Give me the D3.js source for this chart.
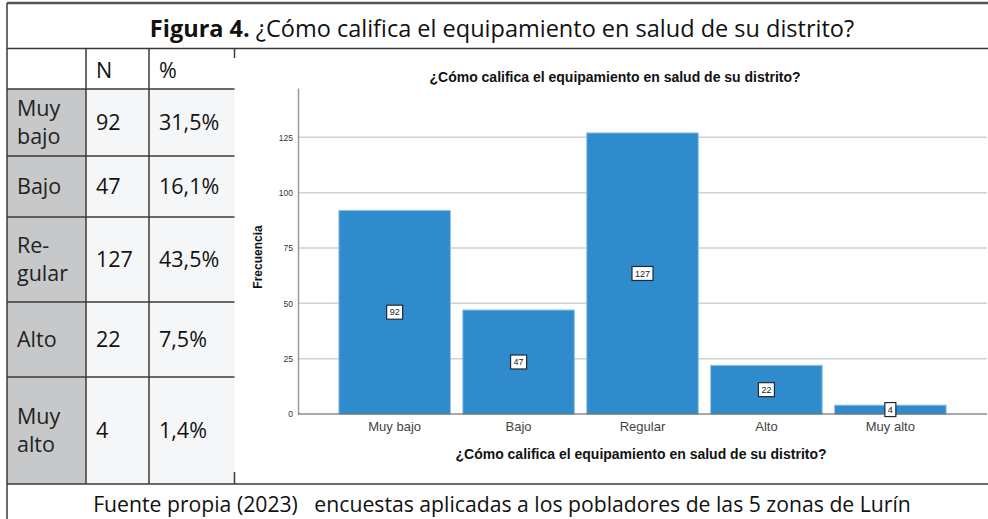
<!DOCTYPE html>
<html>
<head>
<meta charset="utf-8">
<script src="https://cdn.jsdelivr.net/npm/d3@7"></script>
<style>
  body { margin: 0; background: #fff; }
  svg { display: block; }
</style>
</head>
<body>
<div id="chart"></div>
<script>
// Data
const categories = ['Muy bajo', 'Bajo', 'Regular', 'Alto', 'Muy alto'];
const counts     = [92, 47, 127, 22, 4];
const percents   = ['31,5%', '16,1%', '43,5%', '7,5%', '1,4%'];
const rowLabels  = [['Muy', 'bajo'], ['Bajo'], ['Re-', 'gular'], ['Alto'], ['Muy', 'alto']];
const yTicks     = [0, 25, 50, 75, 100, 125];

const figTitleBold = 'Figura 4.';
const figTitle     = ' ¿Cómo califica el equipamiento en salud de su distrito?';
const chartTitle   = '¿Cómo califica el equipamiento en salud de su distrito?';
const yTitle       = 'Frecuencia';
const footer       = 'Fuente propia (2023)\u00a0\u00a0\u00a0encuestas aplicadas a los pobladores de las 5 zonas de Lurín';

const W = 988, H = 519;
const FONT_DOC = '"Open Sans", "Noto Sans", sans-serif';
const FONT_CHART = '"Liberation Sans", Arial, sans-serif';
const LINE = '#3a3a3a';

const svg = d3.select('#chart').append('svg').attr('width', W).attr('height', H);

// ---- frame / table layout ----
const frame = { left: 7, right: 997, top: 3, titleBottom: 48.5, bottom: 484 };
const cols  = [7, 86, 149, 234.5];
const rowEdges = [48.5, 89, 156, 217, 302, 377, 484];

// cell backgrounds
rowLabels.forEach((_, i) => {
  const y0 = rowEdges[i + 1], y1 = rowEdges[i + 2];
  svg.append('rect').attr('x', cols[0]).attr('y', y0).attr('width', cols[1] - cols[0]).attr('height', y1 - y0).attr('fill', '#c7c8ca');
  svg.append('rect').attr('x', cols[1]).attr('y', y0).attr('width', cols[3] - cols[1]).attr('height', y1 - y0).attr('fill', '#f5f6f8');
});

// title
svg.append('text')
  .attr('x', 502).attr('y', 37).attr('text-anchor', 'middle')
  .style('font-family', FONT_DOC).style('font-size', '23.5px').attr('fill', '#111')
  .call(t => t.append('tspan').attr('font-weight', 700).text(figTitleBold))
  .call(t => t.append('tspan').text(figTitle));

// footer
svg.append('text')
  .attr('x', 502).attr('y', 512).attr('text-anchor', 'middle')
  .style('font-family', FONT_DOC).style('font-size', '21.2px').attr('fill', '#111')
  .text(footer);

// table text
const header = svg.append('g').style('font-family', FONT_DOC).style('font-size', '21.5px').attr('fill', '#111');
header.append('text').attr('x', 96).attr('y', 78).text('N');
header.append('text').attr('x', 159).attr('y', 78).text('%');

rowLabels.forEach((lines, i) => {
  const y0 = rowEdges[i + 1], y1 = rowEdges[i + 2];
  const mid = (y0 + y1) / 2;
  const lh = 28;
  const first = mid + 7.5 - (lines.length - 1) * lh / 2;
  lines.forEach((s, j) => {
    header.append('text').attr('x', 17).attr('y', first + j * lh).attr('fill', '#222').text(s);
  });
  header.append('text').attr('x', 96).attr('y', mid + 7.5).text(counts[i]);
  header.append('text').attr('x', 159).attr('y', mid + 7.5).text(percents[i]);
});

// table lines
const lines = svg.append('g').attr('stroke', LINE).attr('stroke-width', 1.5);
lines.append('line').attr('x1', frame.left).attr('x2', frame.right).attr('y1', frame.top).attr('y2', frame.top).attr('stroke-width', 2.5).attr('stroke', '#555');
lines.append('line').attr('x1', frame.left).attr('x2', frame.right).attr('y1', frame.titleBottom).attr('y2', frame.titleBottom);
lines.append('line').attr('x1', frame.left).attr('x2', frame.right).attr('y1', frame.bottom).attr('y2', frame.bottom);
lines.append('line').attr('x1', frame.left).attr('x2', frame.left).attr('y1', frame.top).attr('y2', H);
rowEdges.slice(1, -1).forEach(y => {
  lines.append('line').attr('x1', cols[0]).attr('x2', cols[3]).attr('y1', y).attr('y2', y);
});
[cols[1], cols[2]].forEach(x => {
  lines.append('line').attr('x1', x).attr('x2', x).attr('y1', frame.titleBottom).attr('y2', frame.bottom);
});
lines.append('line').attr('x1', cols[3]).attr('x2', cols[3]).attr('y1', frame.titleBottom).attr('y2', 58);
lines.append('line').attr('x1', cols[3]).attr('x2', cols[3]).attr('y1', 472).attr('y2', frame.bottom);

// ---- chart ----
const plot = { left: 298, right: 987, top: 88, bottom: 414 };

const x = d3.scaleBand()
  .domain(categories)
  .range([plot.left, plot.right])
  .paddingInner(0.1)
  .paddingOuter(0.33);

const y = d3.scaleLinear().domain([0, 147.3]).range([plot.bottom, plot.top]);

const g = svg.append('g').style('font-family', FONT_CHART);

// grid lines
g.append('g')
  .selectAll('line')
  .data(yTicks.filter(d => d > 0))
  .join('line')
  .attr('x1', plot.left).attr('x2', plot.right)
  .attr('y1', d => y(d)).attr('y2', d => y(d))
  .attr('stroke', '#cfd0d2').attr('stroke-width', 1.5);

// y axis
g.append('g')
  .attr('transform', `translate(${plot.left},0)`)
  .call(d3.axisLeft(y).tickValues(yTicks).tickSize(0).tickPadding(5))
  .call(ax => ax.select('.domain').attr('stroke', '#9a9a9a').attr('stroke-width', 1.5))
  .call(ax => ax.selectAll('text').attr('fill', '#333').style('font-size', '8.5px').style('font-family', FONT_CHART));

// bars
g.append('g')
  .selectAll('rect')
  .data(categories)
  .join('rect')
  .attr('x', d => x(d))
  .attr('y', (d, i) => y(counts[i]))
  .attr('width', x.bandwidth())
  .attr('height', (d, i) => y(0) - y(counts[i]))
  .attr('fill', '#2f8bcb')
  .attr('stroke', '#8fc3e8')
  .attr('stroke-width', 1);

// x axis
g.append('g')
  .attr('transform', `translate(0,${plot.bottom})`)
  .call(d3.axisBottom(x).tickSize(0).tickPadding(8))
  .call(ax => ax.select('.domain').attr('stroke', '#555').attr('stroke-width', 1.2).attr('d', `M${plot.left},0H${plot.right}`))
  .call(ax => ax.selectAll('text').attr('fill', '#444').style('font-size', '13px').style('font-family', FONT_CHART));

// value labels
const labels = g.append('g')
  .selectAll('g')
  .data(categories)
  .join('g')
  .attr('transform', (d, i) => `translate(${x(d) + x.bandwidth() / 2},${y(counts[i] / 2)})`);

labels.append('rect')
  .attr('x', (d, i) => -(String(counts[i]).length * 5 + 6) / 2)
  .attr('y', -7)
  .attr('width', (d, i) => String(counts[i]).length * 5 + 6)
  .attr('height', 14)
  .attr('fill', '#fff')
  .attr('stroke', '#1e2a36')
  .attr('stroke-width', 1.2);

labels.append('text')
  .attr('text-anchor', 'middle')
  .attr('dy', '0.35em')
  .attr('fill', '#222')
  .style('font-size', '9px')
  .text((d, i) => counts[i]);

// chart titles
g.append('text')
  .attr('x', 615).attr('y', 82).attr('text-anchor', 'middle')
  .attr('font-weight', 700).style('font-size', '14px').attr('fill', '#111')
  .text(chartTitle);

g.append('text')
  .attr('x', 641).attr('y', 459).attr('text-anchor', 'middle')
  .attr('font-weight', 700).style('font-size', '14px').attr('fill', '#111')
  .text(chartTitle);

g.append('text')
  .attr('transform', `translate(262,257) rotate(-90)`)
  .attr('text-anchor', 'middle')
  .attr('font-weight', 700).style('font-size', '12px').attr('fill', '#111')
  .text(yTitle);
</script>
</body>
</html>
